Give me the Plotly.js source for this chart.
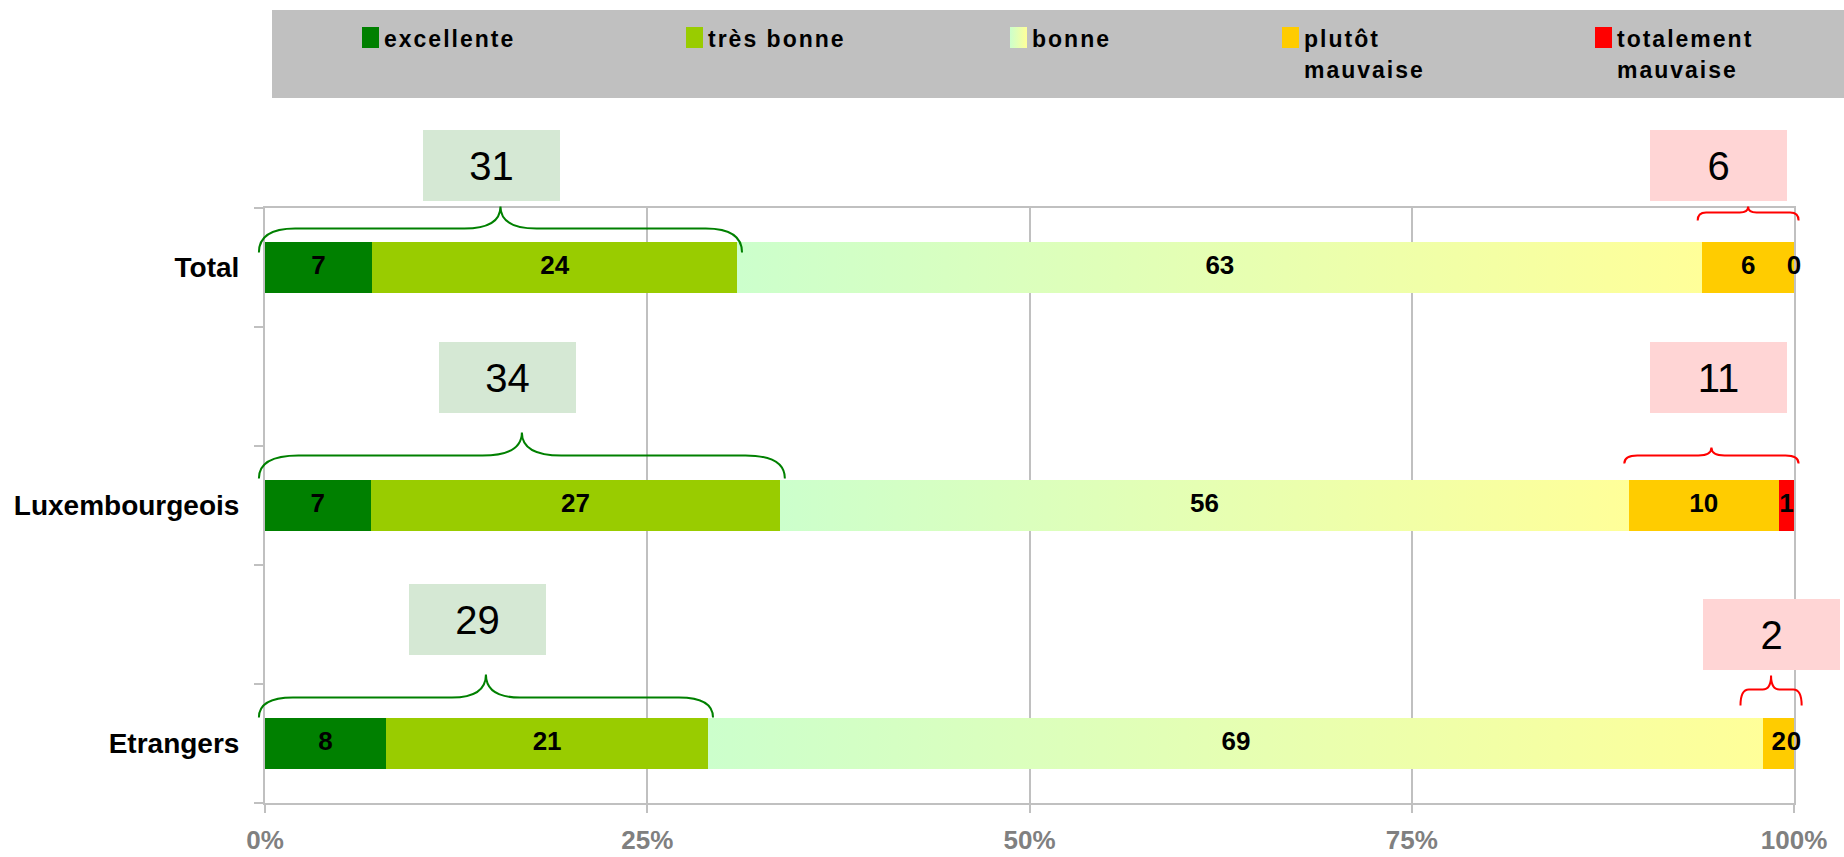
<!DOCTYPE html>
<html>
<head>
<meta charset="utf-8">
<script src="https://cdn.plot.ly/plotly-3.0.1.min.js"></script>
<style>
  html, body { margin: 0; padding: 0; background: #ffffff; }
  #chart { width: 1844px; height: 857px; }
</style>
</head>
<body>
<div id="chart"></div>
<script>
// ---------------- DATA ----------------
const categories = ['Total', 'Luxembourgeois', 'Etrangers'];
const seriesNames = ['excellente', 'très bonne', 'bonne', 'plutôt mauvaise', 'totalement mauvaise'];
const excellente = [7.0, 6.9, 7.9];
const tresBonne = [23.9, 26.8, 21.1];
const bonne = [63.1, 55.5, 69.0];
const plutotMauvaise = [6.0, 9.8, 2.0];
const totalementMauvaise = [0, 1.0, 0];
const positiveTotals = [31, 34, 29];   // excellente + très bonne
const negativeTotals = [6, 11, 2];     // plutôt + totalement mauvaise
const xTickValues = [0, 25, 50, 75, 100];
const xTickLabels = ['0%', '25%', '50%', '75%', '100%'];

// ---------------- LAYOUT / STYLE ----------------
const W = 1844, H = 857;
const M = { l: 265, r: 50, t: 208, b: 54 };
const plotW = W - M.l - M.r;
const plotH = H - M.t - M.b;
const px2paperX = px => (px - M.l) / plotW;
const py2paperY = py => (H - M.b - py) / plotH;

const FONT = 'Liberation Sans, Arial, Helvetica, sans-serif';
const GRID = '#c0c0c0';
const seriesColors = ['#008000', '#99CC00', '#E6FFB3', '#FFCC00', '#FF0000'];
const seriesValues = [excellente, tresBonne, bonne, plutotMauvaise, totalementMauvaise];

// categories are separated by an empty slot, as in the original
const rowPos = categories.map((_, i) => i * 2);
const boundaryTicks = [];
for (let b = -0.5; b <= rowPos[rowPos.length - 1] + 0.5; b += 1) boundaryTicks.push(b);

// bars
const barTraces = seriesValues.map((vals, s) => ({
  type: 'bar', orientation: 'h', name: seriesNames[s],
  x: vals, y: rowPos, width: 0.43,
  marker: { color: seriesColors[s], line: { width: 0 } },
  textposition: 'none', hoverinfo: 'skip', showlegend: false
}));

// segment labels (centred in each segment)
const cum = categories.map(() => 0);
const labelTraces = seriesValues.map((vals) => {
  const xs = vals.map((v, i) => { const m = cum[i] + v / 2; cum[i] += v; return m; });
  return {
    type: 'scatter', mode: 'text', x: xs, y: rowPos,
    text: vals.map(v => String(Math.round(v))),
    textposition: 'middle center',
    textfont: { family: FONT, size: 26, weight: 'bold', color: '#000000' },
    cliponaxis: false, showlegend: false, hoverinfo: 'skip'
  };
});

// braces + boxes
const greenLift = [[15, 39, 61], [27, 50, 73], [26, 46, 69]];
const redLift = [[47, 55, 61], [42, 50, 58], [38, 54, 68]];
const greenBoxLift = [102, 128, 124];
const greenBoxShift = [-9, -14, -8];
const redBoxLift = [102, 128, 109];
const redBoxShift = [-30, 7, 0];

function bracePath(x0, x1, lift) {
  const xm = (x0 + x1) / 2;
  const r = Math.max((x1 - x0) * 0.075, 0.55);
  const [e, h, p] = lift;
  return `M${x0},${e} Q${x0},${h} ${x0 + r},${h} L${xm - r},${h} Q${xm},${h} ${xm},${p} ` +
         `Q${xm},${h} ${xm + r},${h} L${x1 - r},${h} Q${x1},${h} ${x1},${e}`;
}

const shapes = [];
const annotations = [];

// legend (drawn manually: grey band with swatches)
const legendX = [362, 686, 1010, 1282, 1595];
shapes.push({
  type: 'rect', xref: 'paper', yref: 'paper',
  x0: px2paperX(272), x1: px2paperX(1850), y0: py2paperY(98), y1: py2paperY(10),
  fillcolor: '#c0c0c0', line: { width: 0 }
});
seriesNames.forEach((name, s) => {
  shapes.push({
    type: 'rect', xref: 'paper', yref: 'paper',
    x0: px2paperX(legendX[s]), x1: px2paperX(legendX[s] + 17),
    y0: py2paperY(48), y1: py2paperY(27),
    fillcolor: seriesColors[s], line: { width: 0 }
  });
  const lines = name.length > 12 ? [name.slice(0, name.indexOf(' ')), name.slice(name.indexOf(' ') + 1)] : [name];
  lines.forEach((ln, k) => {
    annotations.push({
      xref: 'paper', yref: 'paper', x: px2paperX(legendX[s] + 22), y: py2paperY(26 + 31 * k),
      xanchor: 'left', yanchor: 'top', align: 'left', showarrow: false,
      text: '<span style="letter-spacing:2px">' + ln + '</span>',
      font: { family: FONT, size: 23, weight: 'bold', color: '#000000' },
      borderpad: 0, borderwidth: 0
    });
  });
});

categories.forEach((c, i) => {
  // positive group (excellente + très bonne)
  const posEnd = excellente[i] + tresBonne[i];
  const g0 = -0.4, g1 = posEnd + 0.3;
  shapes.push({
    type: 'path', xref: 'x', yref: 'y', ysizemode: 'pixel', yanchor: rowPos[i],
    path: bracePath(g0, g1, greenLift[i]),
    line: { color: '#008000', width: 2 }
  });
  annotations.push({
    xref: 'x', yref: 'y', x: (g0 + g1) / 2, y: rowPos[i],
    xshift: greenBoxShift[i], yshift: greenBoxLift[i],
    xanchor: 'center', yanchor: 'middle', showarrow: false,
    text: String(positiveTotals[i]), width: 137, height: 71,
    bgcolor: '#D5E8D4', borderpad: 0, borderwidth: 0, align: 'center', valign: 'middle',
    font: { family: FONT, size: 40, color: '#000000' }
  });
  // negative group (plutôt + totalement mauvaise)
  const negVal = plutotMauvaise[i] + totalementMauvaise[i];
  let r0 = 100 - negVal - 0.3, r1 = 100.3;
  if (r1 - r0 < 4) { const mid = 100 - negVal / 2 - 0.5; r0 = mid - 2; r1 = mid + 2; }
  shapes.push({
    type: 'path', xref: 'x', yref: 'y', ysizemode: 'pixel', yanchor: rowPos[i],
    path: bracePath(r0, r1, redLift[i]),
    line: { color: '#FF0000', width: 2 }
  });
  annotations.push({
    xref: 'x', yref: 'y', x: (r0 + r1) / 2, y: rowPos[i],
    xshift: redBoxShift[i], yshift: redBoxLift[i],
    xanchor: 'center', yanchor: 'middle', showarrow: false,
    text: String(negativeTotals[i]), width: 137, height: 71,
    bgcolor: '#FFD5D5', borderpad: 0, borderwidth: 0, align: 'center', valign: 'middle',
    font: { family: FONT, size: 40, color: '#000000' }
  });
});

const layout = {
  width: W, height: H,
  margin: M,
  paper_bgcolor: '#ffffff', plot_bgcolor: '#ffffff',
  barmode: 'stack',
  showlegend: false,
  font: { family: FONT },
  xaxis: {
    range: [0, 100], tickmode: 'array', tickvals: xTickValues, ticktext: xTickLabels,
    showgrid: true, gridcolor: GRID, gridwidth: 2,
    showline: true, linecolor: GRID, linewidth: 2, mirror: true,
    ticks: 'outside', ticklen: 8, tickwidth: 2, tickcolor: GRID,
    zeroline: false, automargin: false, fixedrange: true, layer: 'below traces',
    tickfont: { family: FONT, size: 26, weight: 'bold', color: '#808080' },
    ticklabelstandoff: 5
  },
  yaxis: {
    range: [rowPos[rowPos.length - 1] + 0.5, -0.5],
    tickmode: 'array', tickvals: rowPos, ticktext: categories,
    ticks: '', showgrid: false, zeroline: false,
    showline: true, linecolor: GRID, linewidth: 2, mirror: true,
    automargin: false, fixedrange: true, layer: 'below traces',
    tickfont: { family: FONT, size: 28, weight: 'bold', color: '#000000' },
    ticklabelstandoff: 18,
    minor: { tickmode: 'array', tickvals: boundaryTicks, ticks: 'outside', ticklen: 9,
             tickwidth: 2, tickcolor: GRID, showgrid: false }
  },
  shapes: shapes,
  annotations: annotations
};

Plotly.newPlot('chart', barTraces.concat(labelTraces), layout, { staticPlot: true, displayModeBar: false })
  .then(gd => {
    // horizontal gradient for the "bonne" segments (light green -> light yellow)
    const svgNS = 'http://www.w3.org/2000/svg';
    const defs = gd.querySelector('svg.main-svg defs');
    const grad = document.createElementNS(svgNS, 'linearGradient');
    grad.setAttribute('id', 'bonneGradient');
    grad.setAttribute('x1', '0'); grad.setAttribute('y1', '0');
    grad.setAttribute('x2', '1'); grad.setAttribute('y2', '0');
    [['0', '#CCFFCC'], ['1', '#FFFF99']].forEach(([o, c]) => {
      const st = document.createElementNS(svgNS, 'stop');
      st.setAttribute('offset', o); st.setAttribute('stop-color', c);
      grad.appendChild(st);
    });
    defs.appendChild(grad);
    const traces = gd.querySelectorAll('.barlayer .trace');
    if (traces[2]) traces[2].querySelectorAll('path').forEach(p => { p.style.fill = 'url(#bonneGradient)'; });
    const shapePaths = gd.querySelectorAll('.layer-above .shapelayer path');
    if (shapePaths[3]) shapePaths[3].style.fill = 'url(#bonneGradient)';
    // braces may reach slightly outside the plot area, as in the original
    gd.querySelectorAll('.shapelayer [clip-path], .shapelayer path, .shapelayer g').forEach(el => {
      el.removeAttribute('clip-path');
      if (el.style) el.style.clipPath = 'none';
    });
  });
</script>
</body>
</html>
